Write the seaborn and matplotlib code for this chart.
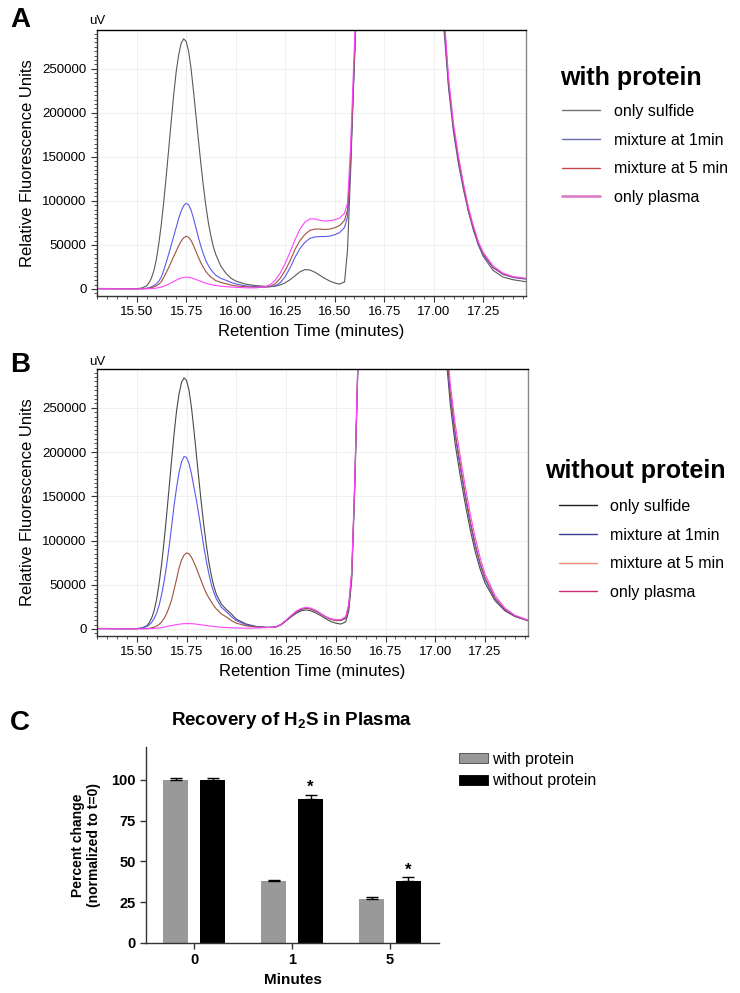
import numpy as np
import pandas as pd
import seaborn as sns
import matplotlib.pyplot as plt
from matplotlib.lines import Line2D
from matplotlib.patches import Patch
from matplotlib.ticker import MultipleLocator

sns.set_style("white")
plt.rcParams["font.family"] = ["Liberation Sans", "DejaVu Sans"]
plt.rcParams["text.color"] = "black"
plt.rcParams["axes.labelcolor"] = "black"
plt.rcParams["mathtext.fontset"] = "custom"
plt.rcParams["mathtext.rm"] = "Liberation Sans"
plt.rcParams["mathtext.bf"] = "Liberation Sans:bold"

rt = [15.30, 15.40, 15.50, 15.525,
      15.55, 15.5625, 15.575, 15.5875, 15.60, 15.6125, 15.625, 15.6375, 15.65, 15.6625,
      15.675, 15.6875, 15.70, 15.7125, 15.725, 15.7375, 15.75, 15.7625, 15.775, 15.7875,
      15.80, 15.8125, 15.825, 15.8375, 15.85, 15.8625, 15.875, 15.8875, 15.90,
      15.925, 15.95, 15.975, 16.00,
      16.05, 16.10, 16.15,
      16.175, 16.20, 16.225, 16.25, 16.275, 16.30, 16.325, 16.35, 16.375, 16.40,
      16.425, 16.45, 16.475, 16.50, 16.525, 16.55, 16.565,
      16.58, 16.595, 16.61,
      16.65, 16.80, 16.95, 17.03,
      17.05, 17.075, 17.10, 17.125, 17.15, 17.175, 17.20, 17.225, 17.25, 17.30,
      17.35, 17.40, 17.47]

# panel A: with protein (uV)
a_sulfide = [600, 400, 300, 1000,
             3500, 7000, 12500, 21000, 34000, 52000, 74000, 100000, 129000, 160000,
             191000, 221000, 247000, 266000, 279000, 284000, 281000, 270000, 250000, 224000,
             196000, 168000, 141000, 116000, 94000, 75000, 60000, 48000, 39000,
             26000, 18000, 12500, 9000,
             5500, 3800, 3000,
             2800, 3200, 4500, 7000, 10500, 15000, 19500, 22000, 21500, 19000,
             15500, 12000, 9000, 6800, 5500, 8000, 45000,
             130000, 230000, 320000,
             700000, 1200000, 1000000, 400000,
             300000, 228000, 178000, 142000, 113000, 88000, 67000, 50000, 37000, 21000,
             13500, 10500, 8000]
a_1min = [300, 200, 200, 300,
          800, 1400, 2400, 3900, 5800, 9000, 13500, 21500, 30500, 40000,
          50000, 60000, 70000, 80000, 88500, 94500, 97300, 95500, 89500, 80000,
          69000, 58000, 48000, 39500, 32000, 26500, 22000, 18500, 15500,
          12000, 10000, 7500, 5800,
          3500, 2600, 2200,
          2400, 3500, 7000, 14000, 24000, 36000, 46000, 53000, 57500, 59000,
          59500, 59500, 60000, 61500, 64000, 70000, 82000,
          140000, 230000, 320000,
          700000, 1200000, 1000000, 400000,
          310000, 232000, 182000, 146000, 116000, 89000, 69000, 51000, 39000, 24000,
          16500, 13000, 11000]
a_5min = [300, 200, 200, 300,
          500, 900, 1500, 2400, 3600, 5500, 8300, 13200, 18800, 24600,
          30800, 36900, 43000, 49200, 54400, 58100, 59800, 58700, 55000, 49200,
          42400, 35700, 29500, 24300, 19700, 16300, 13500, 11400, 9500,
          7400, 6000, 4500, 3500,
          2500, 2000, 2200,
          3000, 6000, 12000, 21000, 32000, 45000, 55000, 62000, 66500, 68000,
          68000, 67500, 68000, 69500, 72000, 78000, 90000,
          145000, 235000, 322000,
          700000, 1200000, 1000000, 400000,
          312000, 234000, 183000, 147000, 117000, 90000, 70000, 52000, 40000, 24500,
          17000, 13500, 11500]
a_plasma = [300, 200, 150, 150,
            200, 300, 500, 700, 1000, 1500, 2200, 3100, 4200, 5500,
            7000, 8500, 10000, 11300, 12400, 13100, 13400, 13200, 12600, 11700,
            10700, 9600, 8500, 7500, 6500, 5700, 5000, 4400, 3900,
            3200, 2600, 2200, 1900,
            1300, 1200, 2500,
            5000, 10000, 18000, 29000, 42000, 56000, 68000, 76000, 79500, 79500,
            78000, 77000, 77500, 78500, 80500, 86000, 98000,
            160000, 250000, 335000,
            700000, 1200000, 1000000, 400000,
            320000, 240000, 188000, 151000, 120000, 93000, 72000, 54000, 41500, 26000,
            18000, 14000, 12000]

# panel B: without protein (uV)
b_sulfide = [600, 400, 300, 1000,
             3500, 7000, 12500, 21000, 34000, 52000, 74000, 100000, 129000, 160000,
             191000, 221000, 247000, 266000, 279000, 284000, 281000, 270000, 250000, 224000,
             196000, 168000, 141000, 116000, 94000, 75000, 60000, 48000, 39000,
             28000, 22000, 17000, 11000,
             5500, 2800, 1800,
             1800, 2200, 4500, 9000, 13500, 17500, 20500, 21500, 20500, 18000,
             15000, 11500, 8500, 6500, 5500, 8000, 20000,
             55000, 155000, 285000,
             700000, 1200000, 1000000, 400000,
             320000, 255000, 209000, 174000, 142000, 113000, 88000, 68000, 52000, 32000,
             20500, 14000, 9000]
b_1min = [300, 200, 300, 1200,
          2500, 4500, 7500, 12000, 18000, 27000, 39000, 54000, 72000, 93000,
          116000, 140000, 160000, 177000, 189000, 195000, 194000, 187000, 175000, 160000,
          145000, 128000, 110000, 92000, 76000, 62000, 50000, 41000, 34000,
          24500, 19500, 14000, 9500,
          4500, 2500, 1800,
          1800, 2500, 5000, 9500, 14500, 19000, 22000, 23500, 22500, 20000,
          17000, 13500, 11000, 9500, 9500, 12000, 25000,
          60000, 160000, 290000,
          700000, 1200000, 1000000, 400000,
          330000, 264000, 218000, 183000, 150000, 120000, 94000, 73000, 56000, 34000,
          21500, 14500, 9000]
b_5min = [300, 200, 200, 300,
          400, 700, 1200, 2000, 3300, 5200, 8000, 12000, 17500, 24500,
          33000, 44500, 56500, 69000, 78000, 83500, 86000, 85000, 81000, 75000,
          68500, 61000, 53500, 46500, 40000, 35000, 30500, 26000, 22500,
          17000, 13500, 9500, 6500,
          3500, 2200, 1600,
          1800, 2500, 5000, 9500, 14500, 19000, 22000, 23500, 22500, 20000,
          17000, 13500, 11000, 9500, 9500, 12500, 26000,
          62000, 163000, 292000,
          700000, 1200000, 1000000, 400000,
          335000, 268000, 222000, 187000, 153000, 123000, 97000, 75000, 58000, 35000,
          22000, 14700, 9200]
b_plasma = [300, 200, 150, 150,
            200, 300, 400, 600, 800, 1100, 1500, 2000, 2600, 3200,
            3800, 4400, 4900, 5300, 5700, 5900, 6000, 6000, 5900, 5700,
            5400, 5000, 4600, 4200, 3800, 3400, 3000, 2700, 2400,
            2000, 1600, 1300, 1100,
            800, 1000, 1500,
            1800, 2500, 5200, 10000, 15000, 20000, 23000, 24500, 23500, 21000,
            17500, 14000, 11500, 10500, 10500, 14000, 28000,
            65000, 165000, 294000,
            700000, 1200000, 1000000, 400000,
            345000, 278000, 232000, 196000, 162000, 131000, 104000, 81000, 62000, 38000,
            23500, 15500, 9800]

trace_labels = ["only sulfide", "mixture at 1min", "mixture at 5 min", "only plasma"]

# panel C: recovery bars
minutes = ["0", "1", "5"]
with_protein = [100, 38, 27]
with_err = [1.0, 0.6, 1.4]
without_protein = [100, 88.3, 38.2]
without_err = [1.2, 2.3, 2.1]
significant = [False, True, True]

fig = plt.figure(figsize=(7.4, 9.93), dpi=100)
W, H = 740, 993


def px_rect(left, top, right, bottom):
    return [left / W, 1 - bottom / H, (right - left) / W, (bottom - top) / H]


def chromatogram(rect, series, colors):
    ax = fig.add_axes(rect)
    for vals, c in zip(series, colors):
        sns.lineplot(x=rt, y=vals, ax=ax, color=c, lw=0.8)
    ax.set_xlim(15.30, 17.466)
    ax.set_ylim(-8000, 294000)
    ax.xaxis.set_major_locator(MultipleLocator(0.25))
    ax.xaxis.set_minor_locator(MultipleLocator(0.05))
    ax.yaxis.set_major_locator(MultipleLocator(50000))
    ax.yaxis.set_minor_locator(MultipleLocator(5000))
    ax.xaxis.set_major_formatter(plt.FormatStrFormatter("%.2f"))
    ax.yaxis.set_major_formatter(plt.FormatStrFormatter("%d"))
    ax.grid(True, which="major", color="#eeeeee", lw=0.6)
    ax.tick_params(which="both", direction="out", bottom=True, left=True,
                   colors="#333333", labelcolor="black", labelsize=9.5)
    ax.tick_params(which="major", length=4, width=0.8)
    ax.tick_params(which="minor", length=2.5, width=0.6)
    for side in ["left", "bottom"]:
        ax.spines[side].set_color("#333333")
        ax.spines[side].set_linewidth(1.0)
    ax.spines["top"].set_color("black")
    ax.spines["top"].set_linewidth(1.0)
    ax.spines["right"].set_color("#888888")
    ax.spines["right"].set_linewidth(1.0)
    ax.set_xlabel("Retention Time (minutes)", fontsize=12, labelpad=4)
    ax.set_ylabel("Relative Fluorescence Units", fontsize=12, labelpad=5)
    return ax


ax_a = chromatogram(px_rect(97, 30, 526, 296),
                    [a_sulfide, a_1min, a_5min, a_plasma],
                    ["#5a5a5a", "#5a5aee", "#a0523c", "#ff44ff"])
ax_b = chromatogram(px_rect(97, 369, 528, 636),
                    [b_sulfide, b_1min, b_5min, b_plasma],
                    ["#4a4a4a", "#5a5aee", "#a0523c", "#ff44ff"])

fig.text(97 / W, 1 - 21 / H, "uV", fontsize=9.5, ha="center", va="center")
fig.text(97 / W, 1 - 362 / H, "uV", fontsize=9.5, ha="center", va="center")

fig.text(10 / W, 1 - 20 / H, "A", fontsize=20, fontweight="bold", va="center")
fig.text(10 / W, 1 - 365 / H, "B", fontsize=20, fontweight="bold", va="center")
fig.text(10 / W, 1 - 723 / H, "C", fontsize=20, fontweight="bold", va="center")

# trace legends
fig.text(560 / W, 1 - 78 / H, "with protein", fontsize=18, fontweight="bold", va="center")
hand_a = [Line2D([], [], color=c, lw=lw) for c, lw in
          zip(["#707070", "#6b6bb0", "#c04848", "#e080c8"], [1.0, 1.0, 1.0, 2.0])]
fig.legend(hand_a, trace_labels, loc="upper left", bbox_to_anchor=(562 / W, 1 - 104 / H),
           frameon=False, fontsize=11.5, handlelength=2.4, handletextpad=0.85,
           labelspacing=0.85, borderpad=0, borderaxespad=0)

fig.text(545 / W, 1 - 471 / H, "without protein", fontsize=18, fontweight="bold", va="center")
hand_b = [Line2D([], [], color=c, lw=1.0) for c in
          ["#222222", "#3a3a90", "#f08878", "#d02878"]]
fig.legend(hand_b, trace_labels, loc="upper left", bbox_to_anchor=(559 / W, 1 - 499 / H),
           frameon=False, fontsize=11.5, handlelength=2.4, handletextpad=0.8,
           labelspacing=0.85, borderpad=0, borderaxespad=0)

# panel C
df_c = pd.DataFrame({
    "Minutes": minutes * 2,
    "pct": with_protein + without_protein,
    "group": ["with protein"] * 3 + ["without protein"] * 3,
})
ax_c = fig.add_axes(px_rect(146, 747, 439, 943))
sns.barplot(data=df_c, x="Minutes", y="pct", hue="group",
            palette=["#999999", "#000000"], width=0.755, gap=0.325,
            errorbar=None, ax=ax_c, legend=False, linewidth=0)

for cont, vals, errs, is_without in zip(ax_c.containers, [with_protein, without_protein],
                                        [with_err, without_err], [False, True]):
    xs = [p.get_x() + p.get_width() / 2 for p in cont.patches]
    ax_c.errorbar(xs, vals, yerr=[np.zeros(len(errs)), errs], fmt="none",
                  ecolor="black", elinewidth=1.0, capsize=4, capthick=1.0)
    if is_without:
        for x, v, e, s in zip(xs, vals, errs, significant):
            if s:
                ax_c.text(x, v + e + 4.5, "*", ha="center", va="center",
                          fontsize=12, fontweight="bold")

ax_c.set_xlim(-0.49, 2.5)
ax_c.set_ylim(0, 120)
ax_c.set_yticks([0, 25, 50, 75, 100])
sns.despine(ax=ax_c)
for side in ["left", "bottom"]:
    ax_c.spines[side].set_color("#333333")
    ax_c.spines[side].set_linewidth(1.0)
ax_c.tick_params(direction="out", length=4, width=1.0, colors="#333333",
                 labelcolor="black", labelsize=10.5, bottom=True, left=True)
for lab in ax_c.get_xticklabels() + ax_c.get_yticklabels():
    lab.set_fontweight("bold")
ax_c.set_xlabel("Minutes", fontsize=11, fontweight="bold", labelpad=4)
ax_c.set_ylabel("Percent change\n(normalized to t=0)", fontsize=10,
                fontweight="bold", labelpad=7)
ax_c.set_title(r"Recovery of H$_{\mathbf{2}}$S in Plasma", fontsize=13.5,
               fontweight="bold", pad=16)
ax_c.title.set_position(((292 - 146) / 293, 1.0))

hand_c = [Patch(facecolor="#999999", edgecolor="#444444", lw=0.6),
          Patch(facecolor="#000000", edgecolor="#000000", lw=0.6)]
fig.legend(hand_c, ["with protein", "without protein"], loc="upper left",
           bbox_to_anchor=(459 / W, 1 - 752 / H), frameon=False, fontsize=11.5,
           handlelength=1.8, handleheight=0.6, handletextpad=0.25,
           labelspacing=0.4, borderpad=0, borderaxespad=0)

fig.savefig("out.png", dpi=100)
